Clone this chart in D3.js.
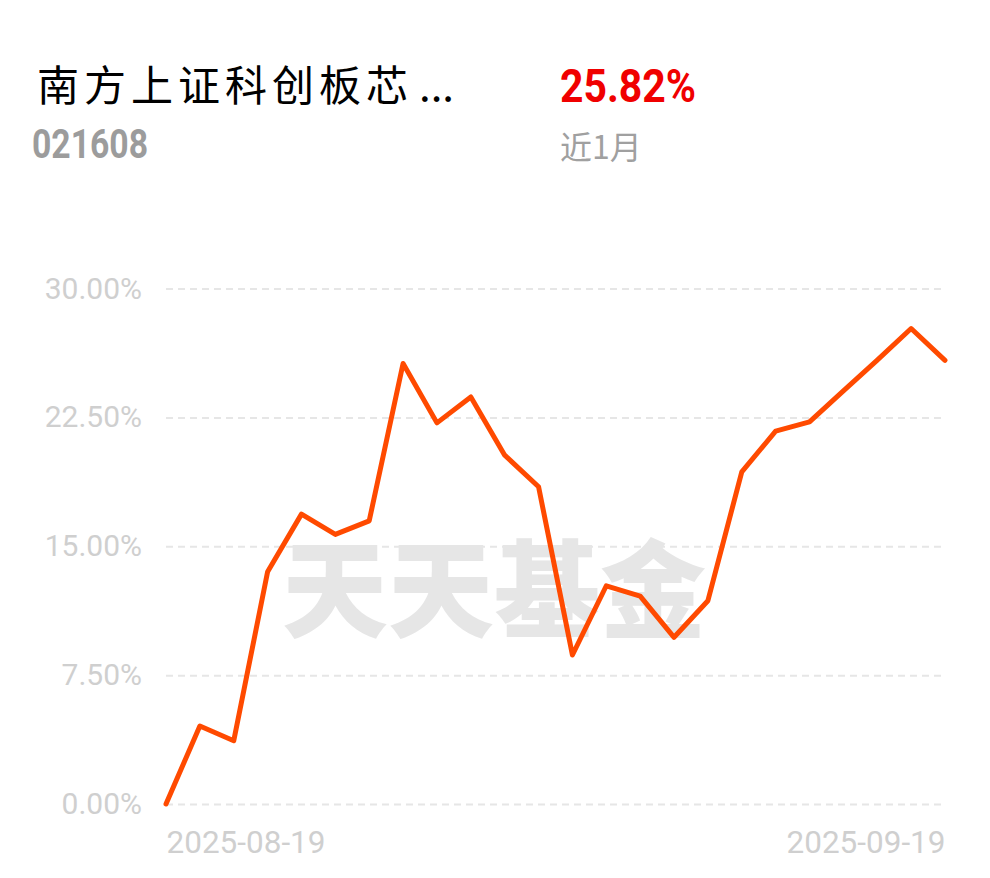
<!DOCTYPE html>
<html>
<head>
<meta charset="utf-8">
<script src="https://cdn.jsdelivr.net/npm/d3@7"></script>
<style>
html,body{margin:0;padding:0;background:#fff;}
svg{display:block;}
</style>
</head>
<body>
<svg id="chart" width="990" height="878"></svg>
<script>
const fundName = "南方上证科创板芯 ...";
const fundCode = "021608";
const periodReturn = "25.82%";
const periodLabel = "近1月";
const watermark = "天天基金";
const xTickLabels = ["2025-08-19", "2025-09-19"];
const yTicks = [0, 7.5, 15, 22.5, 30];
const returns = [0, 4.54, 3.68, 13.51, 16.87, 15.69, 16.48, 25.64, 22.18, 23.69, 20.30, 18.46,
                 8.67, 12.70, 12.10, 9.70, 11.83, 19.33, 21.70, 22.24, 24.04, 25.83, 27.67, 25.82];

const svg = d3.select("#chart");
const x = d3.scaleLinear().domain([0, returns.length - 1]).range([166, 945]);
const y = d3.scaleLinear().domain([0, 30]).range([804, 288.5]);

// header
const nameParts = fundName.split(" ");
const title = svg.append("text").attr("y", 101)
  .attr("font-family", "'Noto Sans CJK SC', sans-serif").attr("font-size", 42).attr("fill", "#000");
title.append("tspan").attr("x", 37).attr("letter-spacing", 5).text(nameParts[0]);
title.append("tspan").attr("x", 419).attr("letter-spacing", 0).text(nameParts[1]);

svg.append("text").attr("x", 32).attr("y", 158)
  .attr("font-family", "Roboto, sans-serif").attr("font-weight", 700).attr("font-size", 41)
  .attr("textLength", 116).attr("lengthAdjust", "spacingAndGlyphs")
  .attr("fill", "#9c9c9c").text(fundCode);
svg.append("text").attr("x", 560).attr("y", 101.5)
  .attr("font-family", "Roboto, sans-serif").attr("font-weight", 700).attr("font-size", 46)
  .attr("textLength", 136).attr("lengthAdjust", "spacingAndGlyphs")
  .attr("fill", "#f00000").text(periodReturn);
svg.append("text").attr("x", 560).attr("y", 159)
  .attr("font-family", "'Noto Sans CJK SC', sans-serif").attr("font-size", 32)
  .attr("fill", "#a0a0a0").text(periodLabel);

// watermark
svg.append("text").attr("x", 494).attr("y", 629).attr("text-anchor", "middle")
  .attr("font-family", "'Noto Sans CJK SC', sans-serif").attr("font-weight", 900).attr("font-size", 106)
  .attr("fill", "#e6e6e6").text(watermark);

// grid
const yAxis = d3.axisLeft(y).tickValues(yTicks).tickFormat(d => d.toFixed(2) + "%")
  .tickSize(-(945 - 166)).tickPadding(24);
const gy = svg.append("g").attr("transform", "translate(166,0)").call(yAxis);
gy.select(".domain").remove();
gy.selectAll(".tick line").attr("stroke", "#e6e6e6").attr("stroke-width", 2).attr("stroke-dasharray", "7,5");
gy.selectAll(".tick text").attr("font-family", "Roboto, sans-serif").attr("font-size", 30)
  .attr("fill", "#cfcfcf").attr("dy", "0.32em");

// x labels
const xAxis = d3.axisBottom(x).tickValues([0, returns.length - 1])
  .tickFormat((d, i) => xTickLabels[i]).tickSize(0).tickPadding(0);
const gx = svg.append("g").attr("transform", "translate(0,853)").call(xAxis);
gx.select(".domain").remove();
gx.selectAll(".tick text").attr("font-family", "Roboto, sans-serif").attr("font-size", 32)
  .attr("fill", "#cfcfcf").attr("dy", 0).attr("y", 0)
  .attr("textLength", 159).attr("lengthAdjust", "spacingAndGlyphs")
  .attr("text-anchor", (d, i) => i === 0 ? "start" : "end");

// line
const line = d3.line().x((d, i) => x(i)).y(d => y(d));
svg.append("path").datum(returns).attr("d", line)
  .attr("fill", "none").attr("stroke", "#ff4a00").attr("stroke-width", 5)
  .attr("stroke-linejoin", "round").attr("stroke-linecap", "round");
</script>
</body>
</html>
